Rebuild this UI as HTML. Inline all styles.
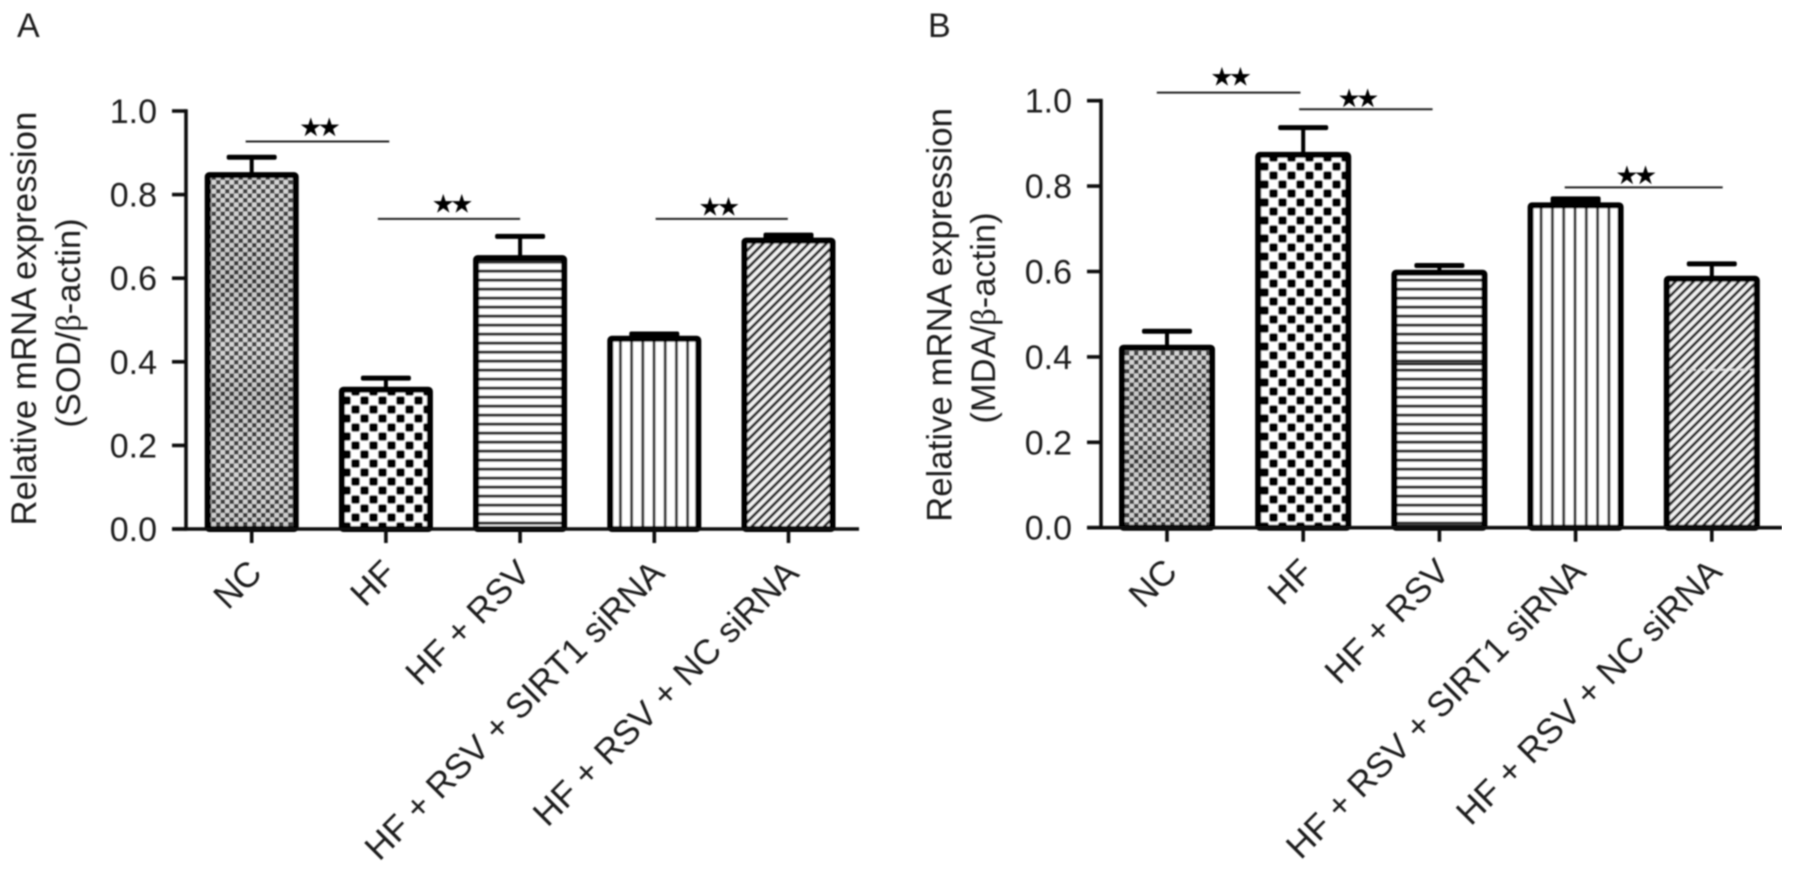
<!DOCTYPE html>
<html lang="en">
<head>
<meta charset="utf-8">
<title>Relative mRNA expression of SOD and MDA</title>
<style>
html,body{margin:0;padding:0;background:#fff;}
#chart{display:block;width:1795px;height:874px;}
text{font-family:"Liberation Sans",Arial,sans-serif;fill:#1c1c1c;}
</style>
</head>
<body>
<svg id="chart" xmlns="http://www.w3.org/2000/svg" width="1795" height="874" viewBox="0 0 1795 874">
  <defs>
    <filter id="soft" x="0" y="0" width="100%" height="100%" filterUnits="objectBoundingBox">
      <feGaussianBlur stdDeviation="0.7"/>
    </filter>
    <linearGradient id="moire" x1="0" y1="0" x2="0" y2="1">
      <stop offset="0" stop-color="#fff" stop-opacity="0.04"/>
      <stop offset="0.3" stop-color="#000" stop-opacity="0.07"/>
      <stop offset="0.48" stop-color="#fff" stop-opacity="0.06"/>
      <stop offset="0.62" stop-color="#000" stop-opacity="0.07"/>
      <stop offset="0.85" stop-color="#fff" stop-opacity="0.05"/>
      <stop offset="1" stop-color="#000" stop-opacity="0.03"/>
    </linearGradient>
    <pattern id="fill-fine" patternUnits="userSpaceOnUse" width="9" height="9">
      <rect width="9" height="9" fill="#d4d4d4"/>
      <rect x="0" y="0" width="4.5" height="4.5" fill="#3c3c3c"/>
      <rect x="4.5" y="4.5" width="4.5" height="4.5" fill="#3c3c3c"/>
    </pattern>
    <pattern id="fill-coarse" patternUnits="userSpaceOnUse" width="18" height="18">
      <rect width="18" height="18" fill="#fff"/>
      <rect x="0.2" y="0.2" width="8.6" height="8.6" rx="2" fill="#000"/>
      <rect x="9.2" y="9.2" width="8.6" height="8.6" rx="2" fill="#000"/>
    </pattern>
    <pattern id="fill-horizontal" patternUnits="userSpaceOnUse" x="0" y="8.5" width="9" height="9">
      <rect width="9" height="9" fill="#fff"/>
      <rect x="0" y="0" width="9" height="3.2" fill="#2e2e2e"/>
    </pattern>
    <pattern id="fill-vertical-a" patternUnits="userSpaceOnUse" x="652.5" y="0" width="11.2" height="9">
      <rect width="11.2" height="9" fill="#fff"/>
      <rect x="0" y="0" width="3" height="9" fill="#3a3a3a"/>
    </pattern>
    <pattern id="fill-vertical-b" patternUnits="userSpaceOnUse" x="1573.5" y="0" width="11.3" height="9">
      <rect width="11.3" height="9" fill="#fff"/>
      <rect x="0" y="0" width="3" height="9" fill="#3a3a3a"/>
    </pattern>
    <pattern id="fill-diagonal" patternUnits="userSpaceOnUse" width="6.4" height="6.4" patternTransform="rotate(45)">
      <rect width="6.4" height="6.4" fill="#f2f2f2"/>
      <rect x="0" y="0" width="2.9" height="6.4" fill="#2e2e2e"/>
    </pattern>
  </defs>
  <rect x="0" y="0" width="1795" height="874" fill="#fff"/>
  <g id="root" filter="url(#soft)"></g>
</svg>
<script>
var categories = ["NC", "HF", "HF + RSV", "HF + RSV + SIRT1 siRNA", "HF + RSV + NC siRNA"];
var yTickValues = [0, 0.2, 0.4, 0.6, 0.8, 1.0];
var yTickLabels = ["0.0", "0.2", "0.4", "0.6", "0.8", "1.0"];

var meansA = [0.8465, 0.333, 0.648, 0.455, 0.69];
var errorsA = [0.043, 0.028, 0.052, 0.0115, 0.013];
var meansB = [0.4215, 0.873, 0.597, 0.755, 0.583];
var errorsB = [0.0385, 0.064, 0.017, 0.015, 0.035];

/* significance brackets: start/end in category units, height in value units */
var sigStartA = [-0.045, 0.94, 3.01];
var sigEndA = [1.025, 2.0, 3.995];
var sigLevelA = [0.927, 0.742, 0.742];
var sigStartB = [-0.075, 0.97, 2.92];
var sigEndB = [0.98, 1.95, 4.08];
var sigLevelB = [1.019, 0.98, 0.797];

var fills = ["fill-fine", "fill-coarse", "fill-horizontal", "VERT", "fill-diagonal"];

var NS = "http://www.w3.org/2000/svg";
var root = document.getElementById("root");

function mk(tag, attrs, parent) {
  var el = document.createElementNS(NS, tag);
  for (var k in attrs) { el.setAttribute(k, attrs[k]); }
  (parent || root).appendChild(el);
  return el;
}

function drawPanel(p) {
  var group = mk("g", {});
  
  

  function x(i) { return p.x0 + p.step * i; }
  function y(v) { return p.y0 - p.scale * v; }

  var letter = mk("text", {x: p.letterX, y: 37, "font-size": 34}, group);
  letter.textContent = p.letter;
  
  

  /* bars */
  p.means.forEach(function (m, i) {
    var capY = y(m + p.errors[i]);
    var gap = y(m) - capY;
    var stem = mk("line", {x1: x(i), x2: x(i), y1: y(m), y2: capY, stroke: "#000", "stroke-width": 4}, group);
    
    
    var cap = mk("rect", {x: x(i) - 25, y: capY - 2.5, width: 50, height: gap < 6.6 ? gap + 2.5 : 5, rx: 2, fill: "#000"}, group);
    
    
    var fill = fills[i] === "VERT" ? p.vert : fills[i];
    var bar = mk("rect", {x: x(i) - p.barW / 2, y: y(m), width: p.barW, height: y(0) - y(m), rx: 1.5, fill: "url(#" + fill + ")", stroke: "#000", "stroke-width": 6}, group);
    
    
    if (i === 0) {
      var shade = mk("rect", {x: x(i) - p.barW / 2 + 3, y: y(m) + 3, width: p.barW - 6, height: y(0) - y(m) - 6, fill: "url(#moire)"}, group);
      
      
    }
  });

  /* artefact lines inside panel B bars */
  if (p.key === "b") {
    var dark = mk("line", {x1: x(2) - p.barW / 2, x2: x(2) + p.barW / 2, y1: y(0.383), y2: y(0.383), stroke: "#000", "stroke-width": 2.5}, group);
    
    
    var light = mk("line", {x1: x(4) - p.barW / 2 + 3, x2: x(4) + p.barW / 2 - 3, y1: y(0.37), y2: y(0.37), stroke: "#ddd", "stroke-width": 2, "stroke-dasharray": "6 4"}, group);
    
    
  }

  /* y axis */
  var yAxis = mk("line", {x1: p.axisX, x2: p.axisX, y1: y(1) - 1.8, y2: y(0) + 1.8, stroke: "#0c0c0c", "stroke-width": 3.6}, group);
  
  
  yTickValues.forEach(function (v, i) {
    var t = mk("line", {x1: p.axisX - 14, x2: p.axisX, y1: y(v), y2: y(v), stroke: "#0c0c0c", "stroke-width": 3.6}, group);
    
    
    var l = mk("text", {x: p.axisX - 29, y: y(v) + 12, "font-size": 34, "text-anchor": "end"}, group);
    l.textContent = yTickLabels[i];
    
    
  });

  /* x axis */
  var xAxis = mk("line", {x1: p.axisX - 14, x2: p.axisEnd, y1: y(0), y2: y(0), stroke: "#0c0c0c", "stroke-width": 3.6}, group);
  
  
  categories.forEach(function (c, i) {
    var t = mk("line", {x1: x(i), x2: x(i), y1: y(0), y2: y(0) + 14, stroke: "#0c0c0c", "stroke-width": 3.6}, group);
    
    
    var ax = x(i) + 12, ay = y(0) + 46;
    var l = mk("text", {x: ax, y: ay, "font-size": 35, "text-anchor": "end", transform: "rotate(-45 " + ax + " " + ay + ")"}, group);
    l.textContent = c;
    
    
  });

  /* significance brackets */
  p.sigStart.forEach(function (s, i) {
    var x1 = x(s), x2 = x(p.sigEnd[i]), ly = y(p.sigLevel[i]);
    var line = mk("line", {x1: x1, x2: x2, y1: ly, y2: ly, stroke: "#222", "stroke-width": 2}, group);
    
    
    var st = mk("text", {x: (x1 + x2) / 2 + p.starShift[i], y: ly - p.starRise[i] + 8, "font-size": 24, "letter-spacing": -3, "text-anchor": "middle", style: 'font-family:"DejaVu Sans",sans-serif;fill:#000;stroke:#000;stroke-width:0.5'}, group);
    st.textContent = "\u2605\u2605";
    
    
  });

  /* y axis titles */
  var t1 = mk("text", {x: 0, y: 0, "font-size": 34.8, "text-anchor": "middle", transform: "translate(" + p.title1X + " " + p.title1Y + ") rotate(-90)"}, group);
  t1.textContent = "Relative mRNA expression";
  
  
  var t2 = mk("text", {x: 0, y: 0, "font-size": 34.5, "text-anchor": "middle", transform: "translate(" + p.title2X + " " + p.title2Y + ") rotate(-90)"}, group);
  
  
  var a = mk("tspan", {}, t2);
  a.textContent = "(" + p.ratio + "/";
  var b = mk("tspan", {style: 'font-family:"Liberation Serif","DejaVu Serif",serif'}, t2);
  b.textContent = "\u03B2";
  var c2 = mk("tspan", {}, t2);
  c2.textContent = "-actin)";
}

drawPanel({
  key: "a", letter: "A", letterX: 17, ratio: "SOD",
  means: meansA, errors: errorsA,
  sigStart: sigStartA, sigEnd: sigEndA, sigLevel: sigLevelA,
  starShift: [1, 2, -4], starRise: [14, 15, 12],
  x0: 251.7, step: 134.2, barW: 88, y0: 529, scale: 418,
  axisX: 186, axisEnd: 859, vert: "fill-vertical-a",
  title1X: 36, title1Y: 318.6, title2X: 80, title2Y: 323
});
drawPanel({
  key: "b", letter: "B", letterX: 928, ratio: "MDA",
  means: meansB, errors: errorsB,
  sigStart: sigStartB, sigEnd: sigEndB, sigLevel: sigLevelB,
  starShift: [1, -9, -9], starRise: [15.5, 10.5, 11.7],
  x0: 1167, step: 136.2, barW: 90, y0: 527.7, scale: 427,
  axisX: 1101, axisEnd: 1782, vert: "fill-vertical-b",
  title1X: 951.7, title1Y: 315, title2X: 995, title2Y: 318
});
</script>
</body>
</html>
